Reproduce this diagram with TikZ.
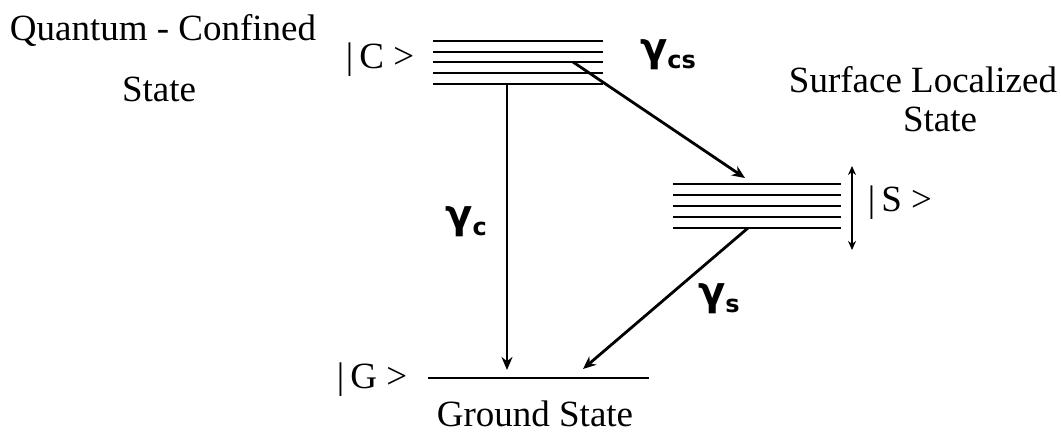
\documentclass[tikz,border=0pt]{standalone}
\usepackage{fontspec}
\setmainfont{Liberation Serif}
\newfontfamily\gfont{DejaVu Sans}
\usetikzlibrary{arrows.meta}
\begin{document}
\begin{tikzpicture}[x=1pt,y=-1pt,
  level/.style={line width=2.8pt},
  trans/.style={line width=2.8pt,-{Stealth[length=13pt,width=11pt]}},
  lbl/.style={font=\fontsize{37}{40}\selectfont,inner sep=0pt},
  rate/.style={font=\fontsize{40}{42}\selectfont\gfont\bfseries,inner sep=0pt}]
\useasboundingbox (0,0) rectangle (1061,438);
% C manifold
\foreach \yy in {41,52,62,73,84} \draw[level] (433,\yy) -- (603,\yy);
% S manifold
\foreach \yy in {184,195,206,217,228} \draw[level] (673,\yy) -- (841,\yy);
% ground
\draw[level] (428,378) -- (649,378);
\coordinate (cbot) at (507,84);
\coordinate (gtop1) at (507,370);
\coordinate (cmid) at (573,62);
\coordinate (stop) at (745,178);
\coordinate (sbot) at (748,228);
\coordinate (gtop2) at (583,369);
\coordinate (wtop) at (852,166);
\coordinate (wbot) at (852,250);
\draw[trans] (cbot) -- (gtop1);
\draw[trans] (cmid) -- (stop);
\draw[trans] (sbot) -- (gtop2);
\draw[line width=2.2pt,{Stealth[length=9pt,width=8pt]}-{Stealth[length=9pt,width=8pt]}] (wtop) -- (wbot);
% labels
\node[lbl] (qc) at (163,30) {Quantum - Confined};
\node[lbl] (qcs) at (159,89) {State};
\node[lbl] (sl) at (923,80) {Surface Localized};
\node[lbl] (sls) at (940,119) {State};
\node[lbl] (ck) at (380,60) {|\,C >};
\node[lbl] (sk) at (900,203) {|\,S >};
\node[lbl] (gk) at (372,380) {|\,G >};
\node[lbl] (gs) at (535,414) {Ground State};
\node[rate] (gc) at (466,222) {γ\raisebox{-7pt}{\fontsize{24}{26}\selectfont c}};
\node[rate] (gcs) at (668,55) {γ\raisebox{-7pt}{\fontsize{24}{26}\selectfont cs}};
\node[rate] (gss) at (719,299) {γ\raisebox{-7pt}{\fontsize{24}{26}\selectfont s}};
\end{tikzpicture}
\end{document}
